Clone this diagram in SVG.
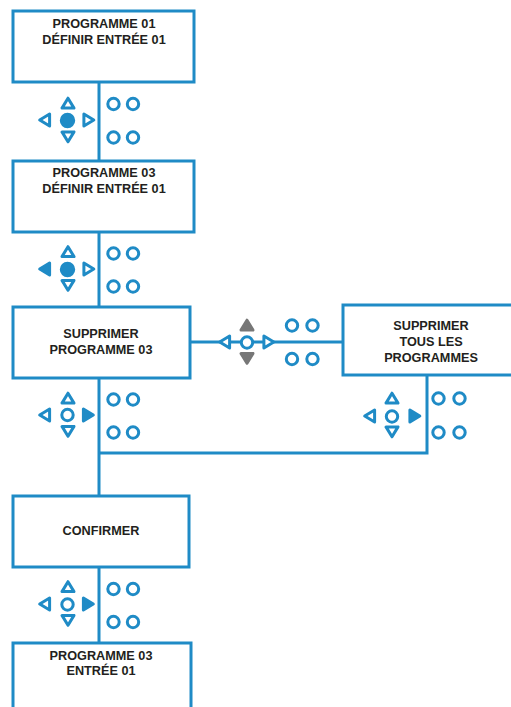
<svg xmlns="http://www.w3.org/2000/svg" xmlns:xlink="http://www.w3.org/1999/xlink" width="511" height="707" viewBox="0 0 511 707">
<style>
.box{fill:#fff;stroke:#1f8bc6;stroke-width:3}
.ln{fill:none;stroke:#1f8bc6;stroke-width:3}
.o{fill:#fff;stroke:#1f8bc6;stroke-width:3;stroke-linejoin:round}
.f{fill:#1f8bc6;stroke:#1f8bc6;stroke-width:3;stroke-linejoin:round}
.g{fill:#777;stroke:#777;stroke-width:3;stroke-linejoin:round}
text{font-family:"Liberation Sans",Arial,sans-serif;font-weight:bold;font-size:12.7px;fill:#231f20;text-anchor:middle}
</style>
<defs>
<path id="tu" d="M0,-5.3 L6,4.6 L-6,4.6 Z"/>
<path id="td" d="M0,5.3 L6,-4.6 L-6,-4.6 Z"/>
<path id="tl" d="M-5.3,0 L4.6,-6 L4.6,6 Z"/>
<path id="tr" d="M5.3,0 L-4.6,-6 L-4.6,6 Z"/>
<circle id="c" r="5.7"/>
</defs>
<g id="connectors">
<path class="ln" d="M99,82 V160 M99,232 V306 M99,378 V495 M99,567 V643 M427,375 V453 H99 M190,342 H343"/>
</g>
<g id="n1"><rect class="box" x="13" y="11" width="181" height="71"/><text x="104" y="28">PROGRAMME 01</text><text x="104" y="43.5">DÉFINIR ENTRÉE 01</text></g>
<g id="n2"><rect class="box" x="13" y="161" width="181" height="71"/><text x="104" y="177">PROGRAMME 03</text><text x="104" y="192.5">DÉFINIR ENTRÉE 01</text></g>
<g id="n3"><rect class="box" x="13" y="307" width="177" height="71"/><text x="101" y="338">SUPPRIMER</text><text x="101" y="354">PROGRAMME 03</text></g>
<g id="n4"><rect class="box" x="343" y="305" width="172" height="70"/><text x="431" y="329.5">SUPPRIMER</text><text x="431" y="346">TOUS LES</text><text x="431" y="362">PROGRAMMES</text></g>
<g id="n5"><rect class="box" x="13" y="496" width="176" height="71"/><text x="101" y="535">CONFIRMER</text></g>
<g id="n6"><rect class="box" x="13" y="643" width="178" height="70"/><text x="101" y="659.5">PROGRAMME 03</text><text x="101" y="675">ENTRÉE 01</text></g>
<g id="pad1">
<use href="#tu" class="o" x="68" y="103.5"/><use href="#td" class="o" x="68" y="136.5"/><use href="#tl" class="o" x="45" y="120"/><use href="#tr" class="o" x="88.5" y="120"/>
<circle class="f" cx="67.5" cy="120.5" r="6.2"/>
<use href="#c" class="o" x="113.5" y="104"/><use href="#c" class="o" x="133" y="104"/><use href="#c" class="o" x="113.5" y="137.5"/><use href="#c" class="o" x="133" y="137.5"/>
</g>
<g id="pad2">
<use href="#tu" class="o" x="68" y="252"/><use href="#td" class="o" x="68" y="285"/><use href="#tl" class="f" x="45" y="269"/><use href="#tr" class="o" x="88.5" y="269"/>
<circle class="f" cx="67.5" cy="269.5" r="6.2"/>
<use href="#c" class="o" x="113.5" y="253.5"/><use href="#c" class="o" x="133" y="253.5"/><use href="#c" class="o" x="113.5" y="286.5"/><use href="#c" class="o" x="133" y="286.5"/>
</g>
<g id="pad3">
<use href="#tu" class="o" x="68" y="398.5"/><use href="#td" class="o" x="68" y="431"/><use href="#tl" class="o" x="45" y="415"/><use href="#tr" class="f" x="88" y="415"/>
<use href="#c" class="o" x="67.5" y="415"/>
<use href="#c" class="o" x="113.5" y="399.5"/><use href="#c" class="o" x="133" y="399.5"/><use href="#c" class="o" x="113.5" y="432.5"/><use href="#c" class="o" x="133" y="432.5"/>
</g>
<g id="pad4">
<use href="#tu" class="o" x="68" y="587"/><use href="#td" class="o" x="68" y="620"/><use href="#tl" class="o" x="45" y="604"/><use href="#tr" class="f" x="88" y="604"/>
<use href="#c" class="o" x="67.5" y="604.5"/>
<use href="#c" class="o" x="113.5" y="589"/><use href="#c" class="o" x="133" y="589"/><use href="#c" class="o" x="113.5" y="622"/><use href="#c" class="o" x="133" y="622"/>
</g>
<g id="pad5">
<use href="#tu" class="o" x="392" y="398.5"/><use href="#td" class="o" x="392" y="431.5"/><use href="#tl" class="o" x="370" y="416"/><use href="#tr" class="f" x="414.5" y="416"/>
<use href="#c" class="o" x="392" y="416.5"/>
<use href="#c" class="o" x="438.5" y="398.5"/><use href="#c" class="o" x="459.5" y="398.5"/><use href="#c" class="o" x="438.5" y="432.5"/><use href="#c" class="o" x="459.5" y="432.5"/>
</g>
<g id="pad6">
<use href="#tu" class="g" x="247" y="325.5"/><use href="#td" class="g" x="247" y="358"/><use href="#tl" class="o" x="225" y="342"/><use href="#tr" class="o" x="268.5" y="342"/>
<use href="#c" class="o" x="247" y="342.5"/>
<use href="#c" class="o" x="292" y="325.5"/><use href="#c" class="o" x="312.5" y="325.5"/><use href="#c" class="o" x="292" y="359"/><use href="#c" class="o" x="312.5" y="359"/>
</g>
</svg>
